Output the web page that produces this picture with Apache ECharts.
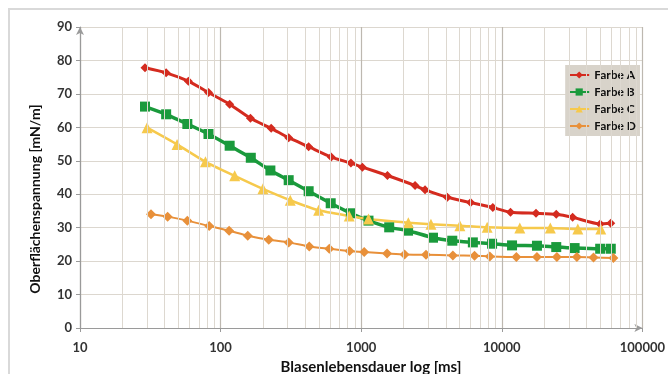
<!DOCTYPE html>
<html>
<head>
<meta charset="utf-8">
<script src="https://cdn.jsdelivr.net/npm/echarts@6/dist/echarts.min.js"></script>
<style>
  html, body { margin: 0; padding: 0; background: #fff; }
  #chart { width: 668px; height: 374px; }
</style>
</head>
<body>
<div id="chart"></div>
<script>
// Blasenlebensdauer [ms] / Oberflächenspannung [mN/m]
const xA = [29, 41, 59, 82, 116, 163, 229, 305, 423, 612, 845, 1020, 1537, 2417, 2845, 4096, 6000, 8630, 11530, 17510, 24400, 31900, 50100, 59600];
const yA = [77.8, 76.3, 73.8, 70.4, 66.9, 62.7, 59.7, 56.9, 54.2, 51.1, 49.3, 48.1, 45.6, 42.6, 41.3, 39.1, 37.5, 36.0, 34.6, 34.3, 34.0, 33.1, 31.1, 31.3];

const xB = [29, 41, 58, 82, 116, 164, 226, 305, 423, 607, 845, 1127, 1582, 2155, 3243, 4447, 6226, 8530, 11830, 17790, 24400, 32960, 50100, 59600];
const yB = [66.2, 63.9, 61.0, 58.0, 54.5, 50.9, 47.1, 44.2, 40.9, 37.3, 34.3, 32.1, 30.1, 29.1, 27.0, 26.1, 25.6, 25.2, 24.7, 24.6, 24.2, 23.9, 23.7, 23.7];

const xC = [30, 49, 78, 126, 200, 313, 498, 822, 1127, 2163, 3134, 5036, 7870, 13430, 22150, 34740, 50600];
const yC = [59.9, 54.9, 49.7, 45.5, 41.6, 38.2, 35.2, 33.5, 32.6, 31.5, 31.0, 30.6, 30.1, 29.9, 29.9, 29.6, 29.6];

const xD = [32, 42, 58, 83, 115, 156, 220, 305, 427, 593, 826, 1050, 1528, 2035, 2890, 4490, 6400, 8220, 12700, 17790, 24660, 34200, 44900, 62200];
const yD = [34.0, 33.3, 32.1, 30.5, 29.1, 27.6, 26.4, 25.6, 24.4, 23.7, 23.0, 22.7, 22.3, 22.0, 21.9, 21.7, 21.6, 21.4, 21.2, 21.2, 21.2, 21.2, 21.1, 20.9];

const seriesNames = ['Farbe A', 'Farbe B', 'Farbe C', 'Farbe D'];
const decades = [10, 100, 1000, 10000];
const minorSteps = [2, 3, 4, 5, 6, 7, 8, 9];

const pairs = (xs, ys) => xs.map((x, i) => [x, ys[i]]);

// log minor grid lines (2..9 in every decade)
const minorLines = [];
decades.forEach((d) => minorSteps.forEach((m) => minorLines.push({ xAxis: d * m })));

const chart = echarts.init(document.getElementById('chart'));
const labelFont = 'Lato, "Open Sans", sans-serif';

const makeLine = (name, data, color, symbol, size, width) => ({
  name: name,
  type: 'line',
  data: data,
  smooth: 0.2,
  symbol: symbol,
  symbolSize: size,
  showSymbol: true,
  lineStyle: { color: color, width: width },
  itemStyle: { color: color },
  z: 3,
});

const option = {
  animation: false,
  grid: { left: 80, right: 24, top: 27, bottom: 46 },
  legend: {
    data: seriesNames,
    orient: 'vertical',
    right: 28,
    top: 65,
    backgroundColor: '#d8d3ca',
    padding: [4, 4, 4, 3],
    itemGap: 5,
    itemWidth: 20,
    itemHeight: 9,
    formatter: '{t|{name}}',
    textStyle: {
      rich: {
        t: { fontFamily: labelFont, fontSize: 12, color: '#111', fontWeight: 'bold' },
      },
    },
  },
  xAxis: {
    type: 'log',
    logBase: 10,
    min: 10,
    max: 100000,
    axisLine: { show: true, lineStyle: { color: '#9a9a9a', width: 1.2 }, symbol: ['none', 'arrow'], symbolSize: [6, 8] },
    axisTick: { show: true, length: 4, lineStyle: { color: '#9a9a9a' } },
    axisLabel: {
      color: '#333',
      fontSize: 13,
      fontFamily: labelFont,
      fontWeight: 'bold',
      margin: 13,
      formatter: (v) => String(Math.round(v)),
    },
    splitLine: { show: true, lineStyle: { color: '#bdb8b0', width: 1.2 } },
  },
  yAxis: {
    type: 'value',
    min: 0,
    max: 90,
    interval: 10,
    axisLine: { show: true, lineStyle: { color: '#9a9a9a', width: 1.2 }, symbol: ['none', 'arrow'], symbolSize: [6, 8] },
    axisTick: { show: true, length: 4, lineStyle: { color: '#9a9a9a' } },
    axisLabel: { color: '#333', fontSize: 13, fontFamily: labelFont, fontWeight: 'bold', margin: 8 },
    splitLine: { show: true, lineStyle: { color: '#dcd7cf', width: 1 } },
  },
  graphic: [
    {
      type: 'rect',
      silent: true,
      shape: { x: 9, y: 9, width: 700, height: 400 },
      style: { fill: 'none', stroke: '#d9d9d9', lineWidth: 2 },
    },
    {
      type: 'text',
      x: 35,
      y: 199,
      rotation: Math.PI / 2,
      style: {
        text: 'Oberflächenspannung [mN/m]',
        font: 'bold 14px ' + labelFont,
        fill: '#111',
        align: 'center',
        verticalAlign: 'middle',
      },
    },
    {
      type: 'text',
      x: 371,
      y: 367,
      style: {
        text: 'Blasenlebensdauer log [ms]',
        font: 'bold 15px ' + labelFont,
        fill: '#111',
        align: 'center',
        verticalAlign: 'middle',
      },
    },
  ],
  series: [
    {
      name: 'grid-minor',
      type: 'line',
      data: [],
      silent: true,
      z: 1,
      markLine: {
        silent: true,
        symbol: ['none', 'none'],
        label: { show: false },
        lineStyle: { color: '#ddd8d0', width: 1, type: 'solid' },
        data: minorLines,
      },
    },
    makeLine('Farbe A', pairs(xA, yA), '#d42b1f', 'diamond', 9, 3),
    makeLine('Farbe B', pairs(xB, yB), '#1a9a3c', 'rect', 10, 3.5),
    makeLine('Farbe C', pairs(xC, yC), '#f6c94c', 'triangle', 11, 2.5),
    makeLine('Farbe D', pairs(xD, yD), '#e8903a', 'diamond', 10, 2),
  ],
};

chart.setOption(option);
</script>
</body>
</html>
